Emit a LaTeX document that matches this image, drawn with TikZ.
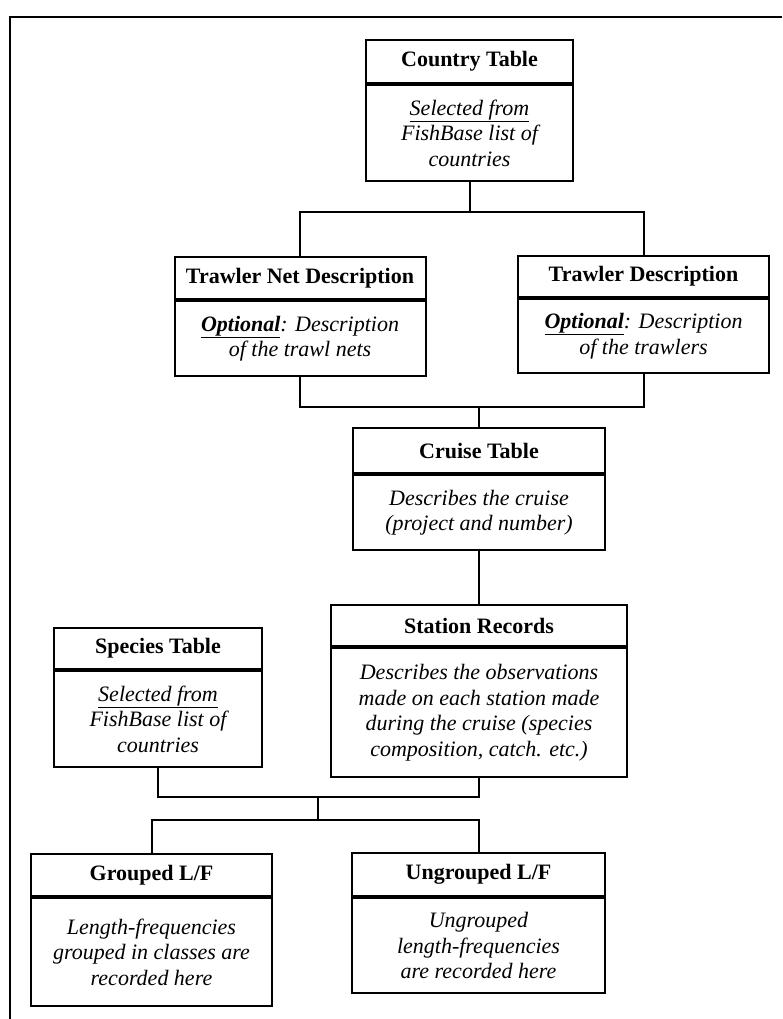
\documentclass[tikz,border=0pt]{standalone}
\usepackage{fontspec}
\setmainfont{Liberation Serif}

\begin{document}
\begin{tikzpicture}[x=1pt,y=-1pt,
    line width=2pt,
    head/.style={draw,anchor=north,font=\fontsize{22}{25.5}\selectfont\bfseries,inner sep=0pt},
    body/.style={draw,anchor=north,align=center,font=\fontsize{22}{25.5}\selectfont\itshape,inner sep=0pt},
    link/.style={line width=2pt}]
    \useasboundingbox (0,0) rectangle (782,1019);
    %frame
    \draw (10,1019) -- (10,17) -- (782,17);
    %country
    \node[head,minimum width=207pt,minimum height=43pt] (country) at (469.5,39) {Country Table};
    \node[body,minimum width=207pt,minimum height=96pt] (countryb) at (country.south)
        {\underline{Selected from}\\FishBase list of\\countries};
    %nets and trawlers
    \node[head,minimum width=251pt,minimum height=42pt] (net) at (300,256) {Trawler Net Description};
    \node[body,minimum width=251pt,minimum height=75pt] (netb) at (net.south)
        {\underline{\textbf{Optional}}: Description\\of the trawl nets};
    \node[head,minimum width=251pt,minimum height=41pt] (trawler) at (643.5,255) {Trawler Description};
    \node[body,minimum width=251pt,minimum height=74pt] (trawlerb) at (trawler.south)
        {\underline{\textbf{Optional}}: Description\\of the trawlers};
    %cruise
    \node[head,minimum width=252pt,minimum height=45pt] (cruise) at (479,427) {Cruise Table};
    \node[body,minimum width=252pt,minimum height=75pt] (cruiseb) at (cruise.south)
        {Describes the cruise\\(project and number)};
    %station
    \node[head,minimum width=296pt,minimum height=41pt] (station) at (479,604) {Station Records};
    \node[body,minimum width=296pt,minimum height=129pt] (stationb) at (station.south)
        {Describes the observations\\made on each station made\\during the cruise (species\\composition, catch. etc.)};
    %species
    \node[head,minimum width=208pt,minimum height=41pt] (species) at (158,627) {Species Table};
    \node[body,minimum width=208pt,minimum height=96pt] (speciesb) at (species.south)
        {\underline{Selected from}\\FishBase list of\\countries};
    %length-frequencies
    \node[head,minimum width=241pt,minimum height=42pt] (grouped) at (151.5,853) {Grouped L/F};
    \node[body,minimum width=241pt,minimum height=108pt] (groupedb) at (grouped.south)
        {Length-frequencies\\grouped in classes are\\recorded here};
    \node[head,minimum width=253pt,minimum height=43pt] (ungrouped) at (478.5,852) {Ungrouped L/F};
    \node[body,minimum width=253pt,minimum height=95pt] (ungroupedb) at (ungrouped.south)
        {Ungrouped\\length-frequencies\\are recorded here};
    %links
    \coordinate (split1) at (469.5,212);
    \coordinate (merge1) at (479,407);
    \coordinate (merge2) at (318,797);
    \coordinate (split2) at (318,820);
    \draw[link] (countryb.south) -- (split1);
    \draw[link] (net.north) |- (split1) -| (trawler.north);
    \draw[link] (netb.south) |- (merge1) -| (trawlerb.south);
    \draw[link] (merge1) -- (cruise.north);
    \draw[link] (cruiseb.south) -- (station.north);
    \draw[link] (speciesb.south) |- (merge2) -| (stationb.south);
    \draw[link] (merge2) -- (split2);
    \draw[link] (grouped.north) |- (split2) -| (ungrouped.north);
\end{tikzpicture}
\end{document}
